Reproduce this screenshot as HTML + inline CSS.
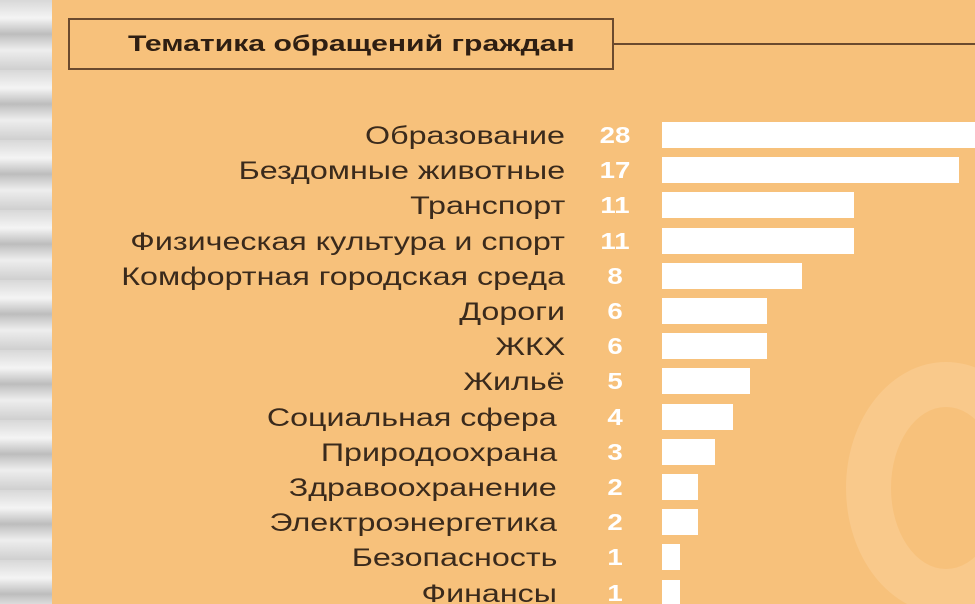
<!DOCTYPE html>
<html><head><meta charset="utf-8"><style>
html,body{margin:0;width:975px;height:604px;overflow:hidden}
body{background:#f7c17b;position:relative;font-family:"Liberation Sans","DejaVu Sans",sans-serif}
.strip{position:absolute;left:0;top:0;width:52px;height:604px;background:repeating-linear-gradient(180deg,#d8d8d8 0,#f4f4f4 18px,#bdbdbd 34px,#eeeeee 50px,#cfcfcf 70px)}
.title{position:absolute;left:68px;top:18px;width:546px;height:52px;border:2px solid #6b4a2e;box-sizing:border-box;color:#2e1e12}
.title span{position:absolute;left:58px;top:0;font-weight:bold;font-size:22px;line-height:48px;transform:scaleX(1.37);transform-origin:left center;white-space:nowrap}
.line{position:absolute;left:614px;top:43px;width:361px;height:2px;background:#6b4a2e}
.big{position:absolute;left:846px;top:362px;width:200px;height:252px;border:45px solid #f9c98b;border-radius:50%;box-sizing:border-box}
.lab{position:absolute;font-size:25px;color:#3a2a1c;white-space:nowrap;line-height:30px;transform:scaleX(1.29);transform-origin:right center}
.num{position:absolute;left:595px;width:40px;text-align:center;font-size:23px;font-weight:bold;color:#fff;line-height:30px;transform:scaleX(1.2)}
.bar{position:absolute;left:662px;height:26px;background:#fff}
</style></head><body>
<div class="strip"></div>
<div class="big"></div>
<div class="title"><span>Тематика обращений граждан</span></div>
<div class="line"></div>
<div id="c"></div>
<script>
var d=[["Образование",28],["Бездомные животные",17],["Транспорт",11],["Физическая культура и спорт",11],["Комфортная городская среда",8],["Дороги",6],["ЖКХ",6],["Жильё",5],["Социальная сфера",4],["Природоохрана",3],["Здравоохранение",2],["Электроэнергетика",2],["Безопасность",1],["Финансы",1]];
var h="";d.forEach(function(r,i){var y=135+i*35.2;var rr=i>=8?418:410;
h+='<div class="lab" style="top:'+(y-14)+'px;right:'+rr+'px">'+r[0]+'</div><div class="num" style="top:'+(y-15)+'px">'+r[1]+'</div><div class="bar" style="top:'+(y-13)+'px;width:'+(r[1]*17.4+1)+'px"></div>';});
document.getElementById("c").innerHTML=h;
</script>
</body></html>
